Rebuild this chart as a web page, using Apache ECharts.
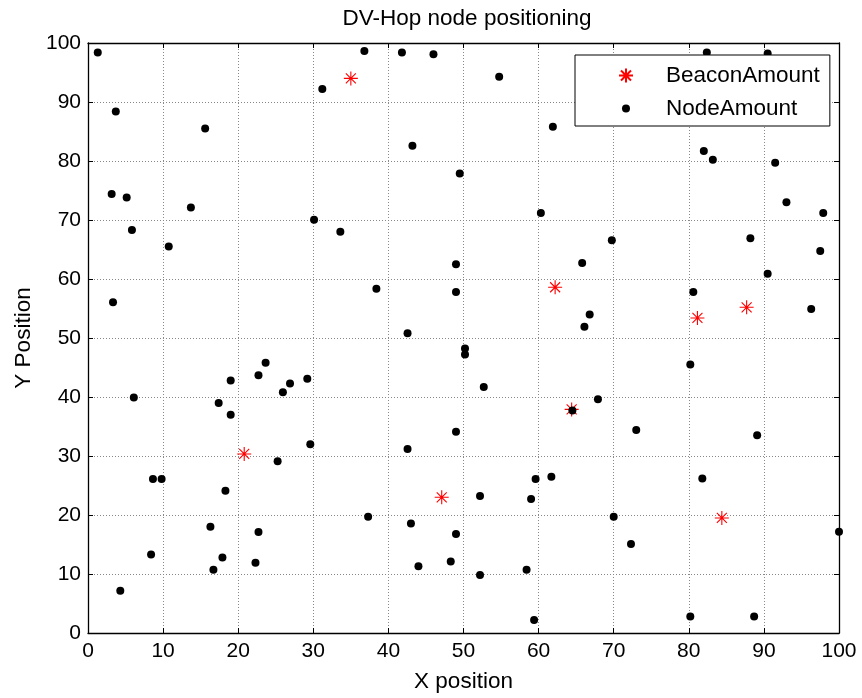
<!DOCTYPE html>
<html>
<head>
<meta charset="utf-8">
<script src="https://cdn.jsdelivr.net/npm/echarts@6/dist/echarts.min.js"></script>
<style>
html,body{margin:0;padding:0;background:#fff;}
#chart{width:862px;height:698px;}
</style>
</head>
<body>
<div id="chart"></div>
<script>
// ---- data ----
const titleText = 'DV-Hop node positioning';
const xAxisName = 'X position';
const yAxisName = 'Y Position';
const seriesNames = ['BeaconAmount', 'NodeAmount'];
const axisTicks = [0, 10, 20, 30, 40, 50, 60, 70, 80, 90, 100];

const beaconX = [35.0, 20.8, 62.2, 64.4, 81.15, 87.7, 47.1, 84.4];
const beaconY = [94.0, 30.35, 58.6, 37.9, 53.4, 55.2, 23.0, 19.5];

const nodeX = [1.3, 3.7, 15.6, 3.15, 5.15, 5.85, 13.7, 10.75, 31.2, 36.8,
  41.8, 46.0, 54.75, 61.9, 43.2, 49.5, 30.1, 33.6, 60.3, 82.4,
  90.5, 82.0, 83.2, 91.5, 93.0, 97.9, 69.75, 88.2, 3.33, 6.1,
  17.4, 19.0, 19.0, 22.7, 23.65, 25.95, 26.9, 25.25, 29.2, 38.4,
  49.0, 49.0, 42.55, 50.2, 50.2, 52.7, 29.6, 42.55, 49.0, 64.5,
  97.5, 65.8, 90.5, 80.6, 96.3, 66.8, 66.1, 80.2, 67.9, 73.0,
  89.1, 81.8, 8.65, 9.8, 18.3, 16.3, 22.7, 8.4, 17.9, 16.7,
  22.3, 4.3, 37.3, 43.0, 49.0, 44.0, 48.3, 52.2, 52.2, 59.0,
  58.4, 59.6, 61.7, 59.4, 70.0, 72.3, 80.2, 88.7, 100.0];
const nodeY = [98.4, 88.4, 85.5, 74.4, 73.8, 68.3, 72.1, 65.5, 92.2, 98.65,
  98.4, 98.1, 94.3, 85.8, 82.6, 77.9, 70.05, 68.0, 71.2, 98.4,
  98.2, 81.7, 80.2, 79.7, 73.0, 71.2, 66.55, 66.9, 56.05, 39.9,
  39.0, 42.8, 37.0, 43.7, 45.8, 40.8, 42.3, 29.1, 43.1, 58.35,
  62.5, 57.8, 50.8, 48.2, 47.2, 41.7, 32.0, 31.2, 34.1, 37.7,
  64.75, 62.7, 60.9, 57.8, 54.9, 54.0, 51.9, 45.5, 39.6, 34.4,
  33.5, 26.2, 26.1, 26.1, 24.1, 18.0, 17.1, 13.3, 12.8, 10.7,
  11.9, 7.15, 19.7, 18.55, 16.8, 11.3, 12.1, 23.2, 9.85, 22.7,
  10.7, 26.1, 26.5, 2.2, 19.7, 15.1, 2.8, 2.8, 17.15];

// ---- build ----
const beaconData = beaconX.map((x, i) => [x, beaconY[i]]);
const nodeData = nodeX.map((x, i) => [x, nodeY[i]]);

const FONT = 'Liberation Sans, Arial, sans-serif';
const BIG = 22.5;
const asteriskPath = 'path://M0,7 L14,7 M7,0 L7,14 M2,2 L12,12 M2,12 L12,2';
const dotIconPath = 'path://M0,0 M14,14 M7,3 A4,4 0 1 1 6.99,3 Z';

const axisMin = axisTicks[0];
const axisMax = axisTicks[axisTicks.length - 1];
const axisStep = axisTicks[1] - axisTicks[0];

function mainAxis(name, isX) {
  return {
    type: 'value', min: axisMin, max: axisMax, interval: axisStep,
    position: isX ? 'bottom' : 'left',
    name: name, nameLocation: 'middle',
    nameGap: isX ? 37 : 52,
    nameRotate: isX ? 0 : 90,
    nameTextStyle: { fontFamily: FONT, fontSize: BIG, color: '#000' },
    axisLine: { show: true, onZero: false, lineStyle: { color: '#000', width: 1.3 } },
    axisTick: { show: true, inside: true, length: 5, lineStyle: { color: '#000' } },
    axisLabel: { fontFamily: FONT, fontSize: 21, color: '#000', margin: isX ? 8 : 7 },
    splitLine: { show: true, lineStyle: { color: '#888', type: [1, 2], width: 1 } }
  };
}
function boxAxis(isX) {
  return {
    type: 'value', min: axisMin, max: axisMax, interval: axisStep,
    position: isX ? 'top' : 'right',
    axisLine: { show: true, onZero: false, lineStyle: { color: '#000', width: 1.3 } },
    axisTick: { show: true, inside: true, length: 5, lineStyle: { color: '#000' } },
    axisLabel: { show: false },
    splitLine: { show: false }
  };
}

const chart = echarts.init(document.getElementById('chart'), null, { renderer: 'canvas' });
chart.setOption({
  backgroundColor: '#fff',
  animation: false,
  title: {
    text: titleText, left: 462, top: 2, textAlign: 'center',
    textStyle: { fontFamily: FONT, fontSize: BIG, fontWeight: 'normal', color: '#000' }
  },
  grid: { left: 88, top: 43, width: 751, height: 593, containLabel: false },
  xAxis: [mainAxis(xAxisName, true), boxAxis(true)],
  yAxis: [mainAxis(yAxisName, false), boxAxis(false)],
  legend: {
    orient: 'vertical', left: 575, top: 55,
    padding: [9, 10, 6, 43],
    itemWidth: 70, itemHeight: 14, itemGap: 10,
    backgroundColor: '#fff', borderColor: '#000', borderWidth: 1,
    textStyle: { fontFamily: FONT, fontSize: BIG, color: '#000', lineHeight: 22 },
    data: [
      { name: seriesNames[0], icon: asteriskPath },
      { name: seriesNames[1], icon: dotIconPath }
    ]
  },
  series: [
    {
      name: seriesNames[0], type: 'scatter', xAxisIndex: 0, yAxisIndex: 0,
      symbol: asteriskPath, symbolSize: 14,
      itemStyle: { color: 'rgba(0,0,0,0)', borderColor: '#ff0000', borderWidth: 1.1, opacity: 1 },
      emphasis: { disabled: true },
      data: beaconData, z: 2
    },
    {
      name: seriesNames[1], type: 'scatter', xAxisIndex: 0, yAxisIndex: 0,
      symbol: 'circle', symbolSize: 8,
      itemStyle: { color: '#000', opacity: 1 },
      emphasis: { disabled: true },
      data: nodeData, z: 3
    }
  ]
});
</script>
</body>
</html>
